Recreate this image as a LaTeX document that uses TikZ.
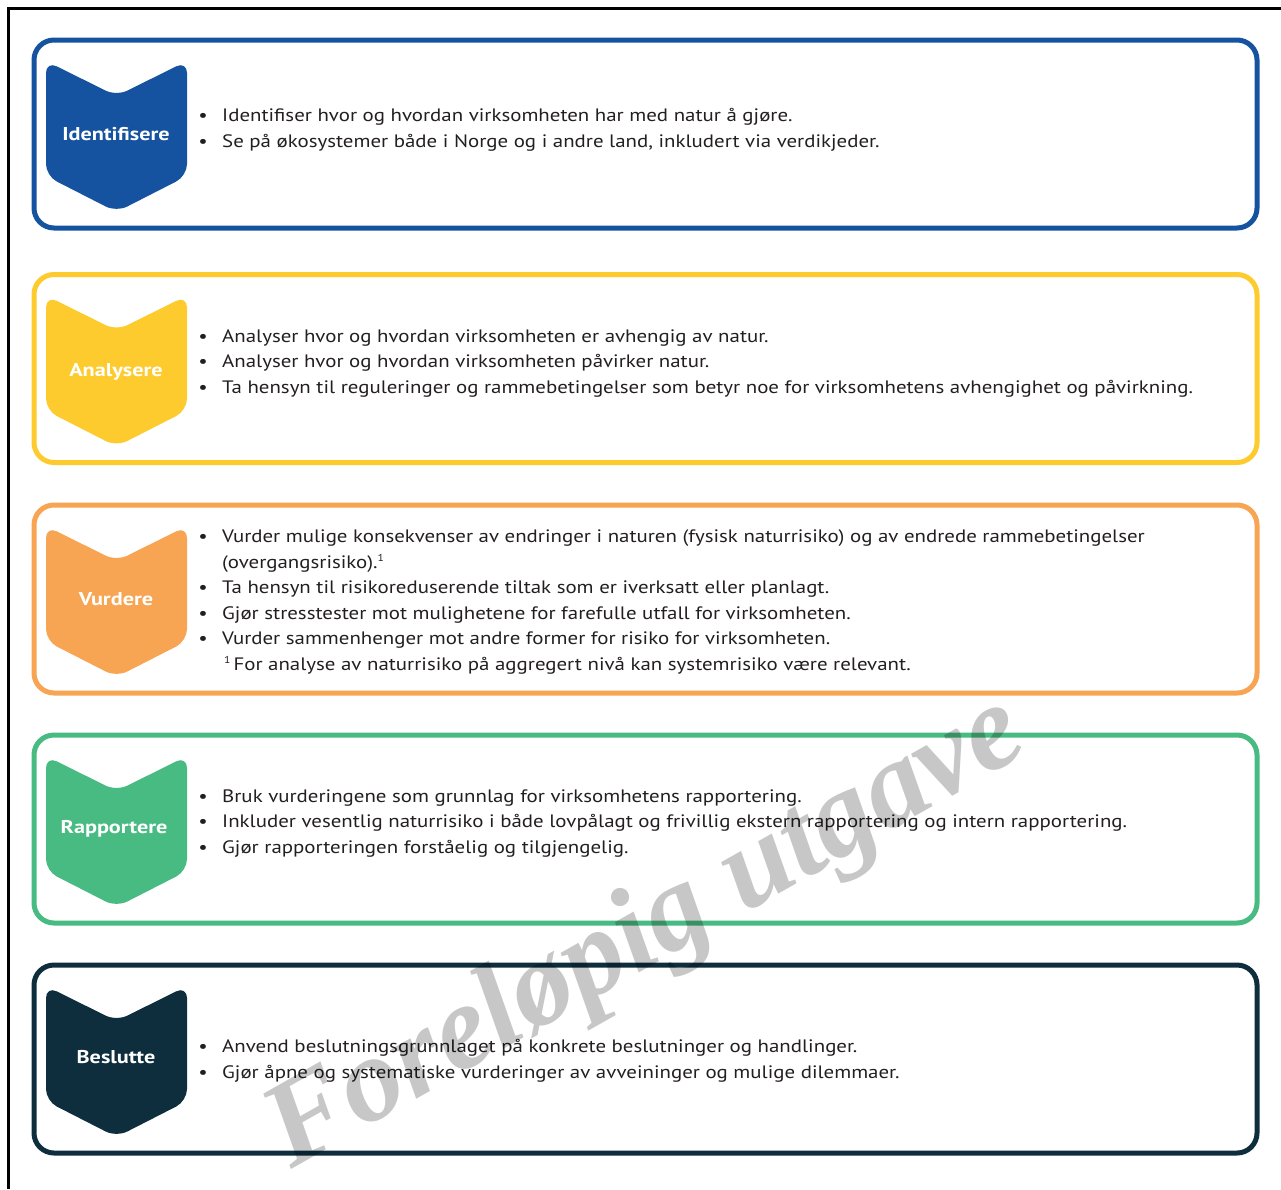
\documentclass[tikz,border=0pt]{standalone}
\usepackage{fontspec}
\setmainfont{PT Sans}[FakeStretch=1.16]
\newfontfamily\labfont{PT Sans}[FakeStretch=1.2]
\newfontfamily\wmfont{Liberation Serif}
\definecolor{cBlue}{RGB}{21,83,160}
\definecolor{cYellow}{RGB}{253,203,46}
\definecolor{cOrange}{RGB}{247,164,83}
\definecolor{cGreen}{RGB}{71,187,130}
\definecolor{cNavy}{RGB}{14,46,62}
\definecolor{cText}{RGB}{35,31,32}
\newcommand{\fnmark}{\raisebox{6.5pt}{\fontsize{10}{10}\selectfont 1}}
\newcommand{\stepframe}[3]{% name, top, colour
  \draw[frame, draw=#3] (34,#2) rectangle (1257,#2+188);
  \fill[#3, rounded corners=12pt] (46,#2+21) -- (116.5,#2+56) -- (187,#2+21) -- (187,#2+136) -- (116.5,#2+172) -- (46,#2+136) -- cycle;
}
\newcommand{\bitem}[3]{% name, baseline, text
  \node[bul] (#1b) at (203,#2) {•};
  \node[itm] (#1) at (222,#2) {#3};
}
\begin{document}
\begin{tikzpicture}[x=1pt,y=-1pt,
  frame/.style={line width=5pt, rounded corners=20pt},
  lab/.style={anchor=base, inner sep=0pt, text=white, font=\labfont\fontsize{18.5}{20}\selectfont\bfseries},
  itm/.style={anchor=base west, inner sep=0pt, text=cText, font=\fontsize{18}{20}\selectfont},
  bul/.style={anchor=base, inner sep=0pt, text=cText, font=\fontsize{18}{20}\selectfont},
]
\useasboundingbox (0,0) rectangle (1281,1189);
% outer frame
\draw[line width=2.5pt] (8.5,1189) -- (8.5,8.5) -- (1281,8.5);
% step 1
\stepframe{s1}{40}{cBlue}
\node[lab] (l1) at (116,140) {Identifisere};
\bitem{t1a}{121}{Identifiser hvor og hvordan virksomheten har med natur å gjøre.}
\bitem{t1b}{147}{Se på økosystemer både i Norge og i andre land, inkludert via verdikjeder.}
% step 2
\stepframe{s2}{274.5}{cYellow}
\node[lab] (l2) at (116,376) {Analysere};
\bitem{t2a}{342}{Analyser hvor og hvordan virksomheten er avhengig av natur.}
\bitem{t2b}{367.5}{Analyser hvor og hvordan virksomheten påvirker natur.}
\bitem{t2c}{393}{Ta hensyn til reguleringer og rammebetingelser som betyr noe for virksomhetens avhengighet og påvirkning.}
% step 3
\stepframe{s3}{505}{cOrange}
\node[lab] (l3) at (116,605) {Vurdere};
\bitem{t3a}{542}{Vurder mulige konsekvenser av endringer i naturen (fysisk naturrisiko) og av endrede rammebetingelser}
\node[itm] (t3a2) at (222,568) {(overgangsrisiko).\fnmark};
\bitem{t3b}{593}{Ta hensyn til risikoreduserende tiltak som er iverksatt eller planlagt.}
\bitem{t3c}{619}{Gjør stresstester mot mulighetene for farefulle utfall for virksomheten.}
\bitem{t3d}{644}{Vurder sammenhenger mot andre former for risiko for virksomheten.}
\node[itm] (t3e) at (222,670) {\hspace{2pt}\fnmark\hspace{3pt}For analyse av naturrisiko på aggregert nivå kan systemrisiko være relevant.};
% step 4
\stepframe{s4}{735}{cGreen}
\node[lab] (l4) at (114,833) {Rapportere};
\bitem{t4a}{802}{Bruk vurderingene som grunnlag for virksomhetens rapportering.}
\bitem{t4b}{827.5}{Inkluder vesentlig naturrisiko i både lovpålagt og frivillig ekstern rapportering og intern rapportering.}
\bitem{t4c}{853}{Gjør rapporteringen forståelig og tilgjengelig.}
% step 5
\stepframe{s5}{965}{cNavy}
\node[lab] (l5) at (116,1063) {Beslutte};
\bitem{t5a}{1052}{Anvend beslutningsgrunnlaget på konkrete beslutninger og handlinger.}
\bitem{t5b}{1078}{Gjør åpne og systematiske vurderinger av avveininger og mulige dilemmaer.}
% watermark (semi-transparent, on top)
\node[text=black, text opacity=0.22, rotate=29.5, inner sep=0pt, font=\wmfont\fontsize{121}{121}\selectfont\bfseries\itshape] (wm) at (647,935) {Foreløpig utgave};
\end{tikzpicture}
\end{document}
